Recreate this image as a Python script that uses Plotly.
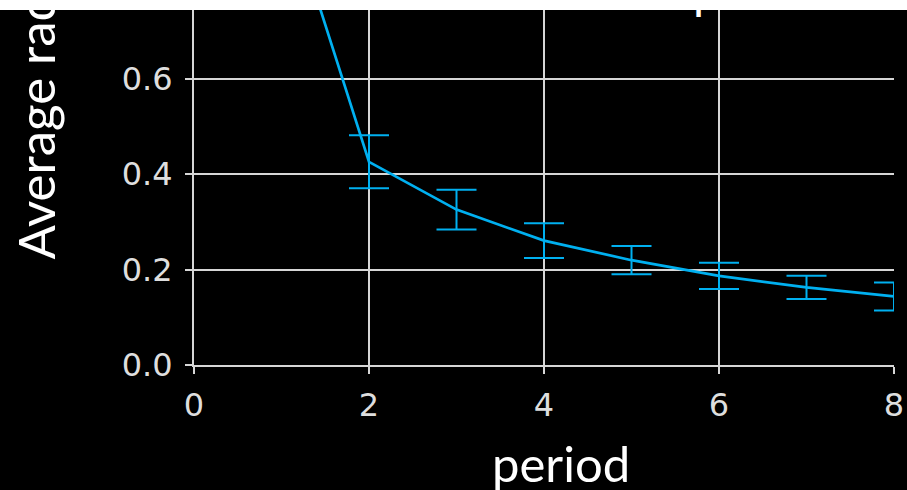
import plotly.graph_objects as go

# Mean radius per period with standard-error bars
periods = [1, 2, 3, 4, 5, 6, 7, 8]
avg_radius = [1.0, 0.4255, 0.3255, 0.2605, 0.2195, 0.1865, 0.1625, 0.1435]
radius_err = [0.0, 0.0555, 0.0415, 0.0365, 0.0295, 0.0275, 0.0245, 0.0295]

x_ticks = [0, 2, 4, 6, 8]
y_ticks = [0.0, 0.2, 0.4, 0.6]

LINE = "#00b0f0"
GRID = "#d6d6d6"
TICKFONT = dict(family="DejaVu Sans", size=32, color="#dedede")

W, H = 907, 490
M = dict(l=194, r=13, t=10, b=125)
plot_w = W - M["l"] - M["r"]
plot_h = H - M["t"] - M["b"]

fig = go.Figure()
fig.add_trace(go.Scatter(
    x=periods, y=avg_radius, mode="lines",
    line=dict(color=LINE, width=2.7),
    error_y=dict(type="data", array=radius_err, visible=True,
                 color=LINE, thickness=2, width=20),
    cliponaxis=True, showlegend=False,
))

axis_common = dict(
    showgrid=True, gridcolor=GRID, gridwidth=2,
    showline=True, linecolor=GRID, linewidth=2,
    zeroline=False, ticks="outside", ticklen=7, tickwidth=2, tickcolor=GRID,
    tickfont=TICKFONT, automargin=False,
)

fig.update_xaxes(range=[0, 8], tickvals=x_ticks, ticktext=[str(v) for v in x_ticks],
                 ticklabelstandoff=4, **axis_common)
fig.update_yaxes(range=[0, 0.7435], tickvals=y_ticks, tickformat=".1f",
                 ticklabelstandoff=6, **axis_common)

def px(col):
    # convert a pixel column into paper coordinates of the plot area
    return (col - M["l"]) / plot_w

def py(row):
    # convert a pixel row into paper coordinates of the plot area
    return (H - M["b"] - row) / plot_h

fig.update_layout(
    width=W, height=H, margin=M,
    paper_bgcolor="black", plot_bgcolor="black",
    shapes=[dict(type="rect", xref="paper", yref="paper",
                 x0=-1, x1=2, y0=1, y1=1.5,
                 fillcolor="white", line=dict(width=0), layer="above")],
    annotations=[
        dict(text="period", xref="paper", yref="paper",
             x=px(561), y=py(463),
             xanchor="center", yanchor="middle", showarrow=False,
             font=dict(family="Lato", size=49, color="white")),
        dict(text="Average radius", xref="paper", yref="paper",
             x=px(35), y=py(262),
             xanchor="center", yanchor="bottom", textangle=-90, showarrow=False,
             font=dict(family="Lato", size=51, color="white")),
        dict(text="p", xref="paper", yref="paper",
             x=px(691), y=py(21),
             xanchor="left", yanchor="bottom", showarrow=False,
             font=dict(family="Lato", size=48, color="white")),
    ],
)

fig.write_html("out.html")
